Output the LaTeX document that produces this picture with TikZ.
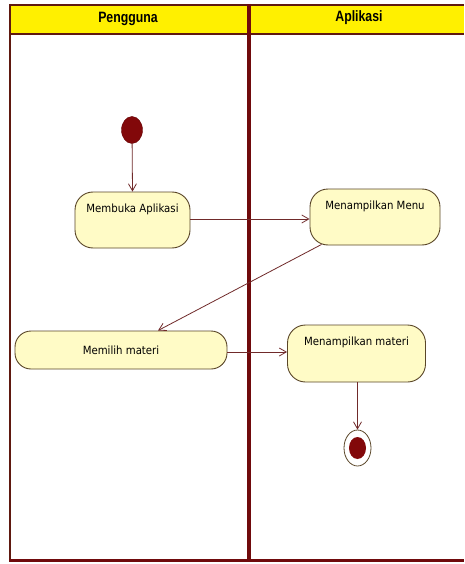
\documentclass[tikz,border=0pt]{standalone}
\usepackage{fontspec}
\usetikzlibrary{arrows.meta,calc,shapes.geometric}
\newfontfamily\actfont[FakeStretch=0.9]{DejaVu Sans}
\newfontfamily\lanefont[FakeStretch=0.82]{Liberation Sans}

\definecolor{headyellow}{RGB}{255,240,0}
\definecolor{laneline}{RGB}{95,25,15}
\definecolor{lanesplit}{RGB}{112,10,12}
\definecolor{actfill}{RGB}{255,251,198}
\definecolor{actline}{RGB}{90,70,40}
\definecolor{flowline}{RGB}{112,42,42}
\definecolor{dotred}{RGB}{130,8,10}

\tikzset{
  activity/.style={draw=actline, fill=actfill, line width=0.9pt,
    rounded corners=18pt, font=\actfont\fontsize{11.3}{13}\selectfont,
    inner sep=0pt, text height=8pt, text depth=24pt},
  flatactivity/.style={draw=actline, fill=actfill, line width=0.9pt,
    rounded corners=16pt, font=\actfont\fontsize{11.3}{13}\selectfont,
    inner sep=0pt},
  flow/.style={draw=flowline, line width=0.8pt,
    -{Straight Barb[length=7pt,width=8pt,line width=0.8pt]}},
  lanetitle/.style={font=\lanefont\bfseries\fontsize{15}{17}\selectfont,
    text=black, inner sep=0pt}
}

\begin{document}
\begin{tikzpicture}[x=1pt,y=-1pt]
  \useasboundingbox (0,0) rectangle (464,564);
  \fill[white] (0,0) rectangle (464,564);

  % swimlane header band
  \fill[headyellow] (10,5) rectangle (464,34);
  \draw[laneline, line width=2pt] (10,5) -- (464,5);
  \draw[laneline, line width=2pt] (10,34) -- (464,34);
  % lane borders
  \draw[laneline, line width=1.8pt] (10,4) -- (10,561);
  \draw[lanesplit, line width=4pt] (248.5,4) -- (248.5,561);
  \draw[lanesplit, line width=3pt] (9,560.5) -- (464,560.5);

  \node[lanetitle] (lanePengguna) at (128,19) {Pengguna};
  \node[lanetitle] (laneAplikasi) at (359,18) {Aplikasi};

  % start and end states
  \node[ellipse, fill=dotred, draw=dotred!80!black, inner sep=0pt,
        minimum width=21pt, minimum height=27pt] (start) at (132,130) {};
  \node[ellipse, draw=actline, line width=0.8pt, fill=white, inner sep=0pt,
        minimum width=27pt, minimum height=36pt] (finish) at (357.5,448) {};
  \node[ellipse, fill=dotred, inner sep=0pt,
        minimum width=17pt, minimum height=22pt] (finishdot) at (357.5,448) {};

  % activities
  \node[activity, minimum width=115pt, minimum height=56pt]
        (membuka) at (132.5,220) {Membuka Aplikasi};
  \node[activity, minimum width=130pt, minimum height=56pt]
        (menu) at (375,217) {Menampilkan Menu};
  \node[flatactivity, minimum width=212pt, minimum height=38pt]
        (memilih) at (121,350) {Memilih materi};
  \node[activity, minimum width=138pt, minimum height=57pt]
        (tampilmateri) at (356.5,353.5) {Menampilkan materi};

  % control flow
  \draw[flow] (start) -- (membuka.north);
  \draw[flow] ($(membuka.east)+(0,-1)$) -- ($(membuka.east -| menu.west)+(0,-1)$);
  \draw[flow] ($(menu.south west)+(12,-1)$) -- ($(memilih.north)+(37,0)$);
  \draw[flow] ($(memilih.east)+(0,2)$) -- ($(memilih.east -| tampilmateri.west)+(0,2)$);
  \draw[flow] (tampilmateri.south -| finish.north) -- (finish.north);
\end{tikzpicture}
\end{document}
